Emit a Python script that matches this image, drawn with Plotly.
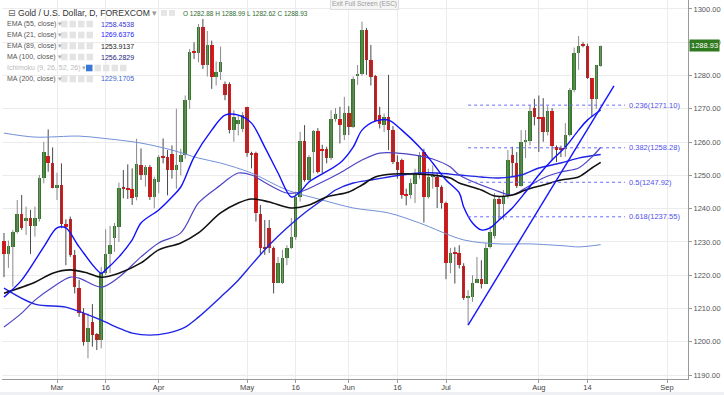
import plotly.graph_objects as go

# ---------------- data ----------------
open_ = [1230.4,1226.3,1228.6,1233.1,1238.4,1236.4,1237.2,1234.8,1236.9,1249.3,
         1255.8,1253.6,1246.1,1247.2,1235.4,1236.9,1226.1,1216.2,1208.5,1199.8,
         1206.0,1202.2,1200.5,1220.6,1226.4,1231.1,1234.6,1246.4,1246.1,1245.8,
         1243.5,1253.1,1250.1,1252.6,1243.6,1248.1,1255.8,1255.4,1256.5,1251.6,
         1254.0,1256.1,1272.6,1287.2,1286.8,1294.7,1283.2,1289.2,1279.7,1281.2,
         1277.5,1277.5,1263.6,1265.5,1263.8,1270.5,1256.8,1256.6,1238.3,1228.3,
         1234.3,1228.1,1217.7,1217.7,1225.1,1228.1,1231.4,1243.4,1260.4,1248.6,
         1257.1,1263.3,1257.8,1257.8,1255.1,1266.8,1266.8,1262.1,1268.6,1264.6,
         1280.0,1280.5,1293.7,1284.7,1279.9,1268.1,1265.1,1267.4,1263.6,1254.1,
         1254.6,1244.3,1244.1,1247.5,1250.0,1257.0,1243.6,1249.6,1249.6,1246.6,
         1241.8,1223.6,1226.6,1226.6,1222.8,1213.3,1213.5,1217.8,1219.0,1217.5,
         1228.5,1231.7,1242.8,1241.4,1243.8,1256.1,1253.8,1246.8,1260.1,1260.3,
         1270.2,1267.6,1267.6,1263.1,1269.4,1258.6,1257.8,1257.8,1262.1,1275.6,
         1286.7,1289.5,1288.9,1279.2,1272.9,1282.88]
high  = [1232.7,1230.4,1233.6,1242.6,1244.1,1240.6,1239.6,1240.6,1250.1,1260.1,
         1263.8,1258.4,1250.8,1253.6,1236.8,1237.6,1227.6,1218.6,1210.1,1208.5,
         1211.3,1202.6,1222.5,1233.8,1234.8,1235.7,1247.8,1251.6,1253.3,1252.1,
         1261.0,1258.1,1253.1,1253.1,1249.6,1256.1,1261.1,1257.6,1259.0,1270.0,
         1258.0,1274.0,1288.0,1290.0,1295.5,1297.0,1293.4,1290.5,1284.2,1288.7,
         1278.2,1278.0,1269.6,1268.0,1269.0,1270.6,1257.1,1257.1,1241.1,1236.6,
         1236.6,1228.6,1225.5,1227.6,1229.0,1237.2,1245.1,1263.1,1265.1,1256.1,
         1263.6,1264.2,1259.2,1258.6,1269.6,1270.2,1270.6,1273.6,1270.8,1279.7,
         1283.2,1296.2,1294.3,1289.2,1280.2,1270.6,1268.6,1280.2,1264.8,1256.0,
         1255.0,1246.0,1249.0,1252.0,1257.0,1258.0,1252.0,1253.0,1250.7,1247.0,
         1242.1,1228.2,1228.4,1229.0,1223.6,1215.5,1220.0,1225.5,1224.5,1229.6,
         1234.8,1244.7,1243.8,1245.6,1257.6,1258.6,1257.0,1263.6,1263.6,1271.1,
         1273.0,1274.0,1273.2,1270.8,1270.2,1259.0,1258.9,1265.7,1276.2,1288.4,
         1291.9,1290.0,1289.6,1279.2,1283.2,1288.99]
low   = [1219.4,1222.2,1216.5,1232.5,1233.6,1232.1,1226.4,1231.6,1236.1,1247.6,
         1251.1,1246.1,1242.6,1234.1,1223.0,1225.5,1214.5,1207.5,1198.8,1195.0,
         1198.5,1197.5,1198.0,1220.0,1220.6,1227.0,1230.0,1243.1,1242.9,1241.1,
         1242.5,1248.6,1246.6,1242.6,1240.1,1244.6,1253.6,1244.0,1249.0,1246.0,
         1250.0,1255.0,1270.0,1285.0,1284.0,1282.0,1279.7,1276.0,1277.0,1278.7,
         1272.6,1262.6,1260.1,1262.0,1263.0,1255.6,1252.1,1236.1,1226.1,1226.1,
         1226.7,1214.5,1217.6,1217.3,1223.0,1227.9,1230.6,1242.1,1248.1,1248.1,
         1250.6,1250.6,1250.7,1253.6,1254.6,1266.1,1259.6,1260.6,1262.1,1264.2,
         1277.2,1279.9,1280.2,1277.0,1266.3,1264.1,1263.0,1257.6,1253.4,1249.0,
         1243.0,1241.0,1243.0,1241.7,1249.0,1235.8,1243.0,1246.0,1240.2,1240.0,
         1218.8,1220.6,1217.5,1222.0,1212.6,1205.0,1212.0,1217.6,1216.0,1217.5,
         1228.0,1231.0,1236.6,1236.6,1243.0,1249.6,1246.2,1246.6,1255.2,1259.0,
         1265.0,1257.0,1260.1,1262.0,1254.6,1254.0,1255.5,1255.6,1261.7,1275.0,
         1281.7,1288.5,1279.0,1267.6,1270.0,1282.62]
close = [1226.3,1228.8,1233.1,1238.4,1234.3,1237.2,1234.8,1237.1,1249.3,1256.9,
         1253.6,1246.1,1247.2,1235.3,1234.6,1226.1,1216.5,1208.5,1199.8,1204.2,
         1202.0,1200.5,1220.6,1226.4,1229.1,1234.9,1246.3,1246.0,1245.6,1243.3,
         1253.3,1250.1,1252.6,1243.6,1248.9,1255.6,1255.4,1251.5,1251.6,1253.0,
         1256.0,1272.6,1287.0,1286.8,1294.5,1283.2,1289.2,1279.7,1281.2,1284.2,
         1274.2,1263.6,1267.6,1266.5,1268.1,1256.6,1256.4,1238.6,1228.1,1228.0,
         1228.1,1217.7,1223.6,1225.1,1228.1,1231.6,1243.6,1260.4,1248.6,1255.6,
         1263.3,1251.1,1257.4,1255.1,1266.9,1268.4,1265.1,1268.6,1264.6,1279.0,
         1280.5,1293.7,1284.7,1279.7,1266.4,1265.4,1267.4,1263.6,1254.1,1251.5,
         1244.1,1244.0,1247.6,1250.6,1256.0,1243.6,1249.6,1249.8,1246.6,1241.6,
         1223.6,1226.6,1226.4,1223.1,1213.0,1213.5,1217.8,1219.0,1217.5,1228.3,
         1233.1,1242.8,1241.4,1243.8,1254.6,1253.8,1246.8,1260.1,1260.3,1269.3,
         1267.6,1267.0,1263.1,1269.4,1258.8,1257.6,1257.7,1262.1,1275.6,1286.7,
         1288.9,1288.9,1279.2,1272.9,1283.2,1288.93]

# moving averages, sampled along the curves (bar index, value)
ema21_idx = [0,4,9,12,14,17,22,23,26,29,31,35,38,40,43,47,50,53,56,59,62,65,67,69,76,79,81,84,87,90,94,97,100,103,104,106,108,110,112,115,118,121,124,127,130,132,135]
ema21_val = [1213.4,1218.5,1228.5,1234.2,1234.2,1228.5,1220.6,1221.6,1225.5,1230.6,1235.7,1239.6,1243.5,1246.5,1255.5,1263.6,1268.1,1268.1,1265.7,1258.5,1250.7,1243.5,1245.0,1248.0,1253.7,1258.5,1263.6,1266.3,1266.6,1263.6,1258.5,1253.7,1248.6,1244.7,1240.5,1235.7,1233.6,1234.2,1236.6,1240.2,1245.0,1250.1,1254.6,1258.5,1263.6,1266.6,1269.64]
ema55_idx = [0,4,7,11,15,17,22,26,31,35,40,44,49,51,53,56,60,64,67,72,76,81,85,89,93,97,101,103,111,115,118,122,126,130,133,135]
ema55_val = [1204.4,1208.6,1212.5,1216.4,1219.4,1219.1,1216.4,1219.4,1225.5,1229.7,1232.7,1241.7,1247.1,1249.2,1250.7,1250.1,1247.1,1244.7,1245.0,1248.0,1250.7,1254.6,1256.7,1256.7,1256.1,1254.9,1252.5,1250.1,1245.6,1244.1,1246.2,1249.2,1251.0,1252.2,1255.5,1258.45]
ema89_idx = [0,7,11,15,19,22,26,31,35,40,44,49,53,56,60,65,69,73,78,81,84,88,93,97,101,103,108,111,115,118,122,126,130,133,135]
ema89_val = [1214.6,1217.9,1220.6,1221.6,1220.6,1219.4,1220.6,1223.7,1227.6,1229.7,1232.7,1238.7,1241.7,1242.9,1242.0,1240.2,1241.1,1243.5,1245.0,1247.1,1249.5,1250.4,1250.4,1250.1,1249.2,1247.7,1245.6,1243.8,1244.1,1245.6,1247.1,1248.6,1249.5,1252.2,1253.91]
ma100_idx = [0,7,14,18,22,26,29,33,37,41,44,49,53,56,60,64,68,72,75,79,83,87,90,94,98,103,108,112,117,121,126,130,135]
ma100_val = [1216.1,1211.3,1210.4,1208.6,1206.5,1204.1,1202.6,1202.0,1202.6,1204.4,1207.4,1213.4,1218.5,1223.1,1229.1,1234.2,1238.7,1242.6,1245.6,1247.7,1248.6,1249.5,1250.1,1250.7,1250.7,1250.1,1249.5,1249.2,1250.1,1252.2,1253.7,1255.2,1256.28]
ma200_idx = [0,7,17,22,31,38,44,49,56,64,72,79,87,94,104,112,119,127,130,135]
ma200_val = [1262.7,1261.5,1261.8,1261.2,1259.7,1257.6,1255.2,1253.7,1250.7,1245.6,1242.6,1240.2,1238.7,1235.7,1230.6,1229.4,1229.4,1228.8,1228.5,1229.17]

legend_rows = ["EMA (55, close)", "EMA (21, close)", "EMA (89, close)", "MA (100, close)",
               "Ichimoku (9, 26, 52, 26)", "MA (200, close)"]
legend_vals = ["1258.4538", "1269.6376", "1253.9137", "1256.2829", "", "1229.1705"]

fib_ratios = [0.236, 0.382, 0.5, 0.618]
fib_levels = [1271.10, 1258.28, 1247.92, 1237.55]
fib_from_bar = 105
fib_to_bar = 140.5

trend_bars = [105, 138]
trend_vals = [1205.0, 1276.9]

tick_bars = [12, 23, 35, 55, 66, 78, 89, 100, 121, 132, 150]
tick_text = ["Mar", "16", "Apr", "May", "16", "Jun", "16", "Jul", "Aug", "14", "Sep"]

last_price = close[-1]

# ---------------- figure ----------------
W, H = 724, 395
ML, MR, MT, MB = 2, 36, 0, 16
PW, PH = W - ML - MR, H - MT - MB


def px(x):
    return (x - ML) / PW


def py(y):
    return 1 - (y - MT) / PH


GREEN = "#2e7a21"
RED = "#f41010"
FONT = "Liberation Sans, Arial, sans-serif"

N = len(close)
bars = list(range(N))

fig = go.Figure()

# wicks (lighter for up candles, darker for down candles, as in the picture)
for up, col in ((True, "#8a8a8a"), (False, "#4a4a4a")):
    wx, wy = [], []
    for i in bars:
        if (close[i] >= open_[i]) == up:
            wx += [i, i, None]
            wy += [low[i], high[i], None]
    fig.add_trace(go.Scatter(x=wx, y=wy, mode="lines", line=dict(color=col, width=1),
                             hoverinfo="skip", showlegend=False))

# bodies
base = [min(o, c) for o, c in zip(open_, close)]
height = [max(abs(c - o), 0.35) for o, c in zip(open_, close)]
colors = [GREEN if c >= o else RED for o, c in zip(open_, close)]
fig.add_trace(go.Bar(x=bars, y=height, base=base, marker=dict(color=colors, line=dict(width=0)),
                     width=0.8, hoverinfo="skip", showlegend=False))

line_style = dict(shape="spline", smoothing=0.9)
fig.add_trace(go.Scatter(x=ma200_idx, y=ma200_val, mode="lines",
                         line=dict(color="#7290d6", width=1, **line_style), showlegend=False, hoverinfo="skip"))
fig.add_trace(go.Scatter(x=ma100_idx, y=ma100_val, mode="lines",
                         line=dict(color="#1f24e6", width=1.4, **line_style), showlegend=False, hoverinfo="skip"))
fig.add_trace(go.Scatter(x=ema55_idx, y=ema55_val, mode="lines",
                         line=dict(color="#4d44c4", width=1.2, **line_style), showlegend=False, hoverinfo="skip"))
fig.add_trace(go.Scatter(x=ema89_idx, y=ema89_val, mode="lines",
                         line=dict(color="#111111", width=1.6, **line_style), showlegend=False, hoverinfo="skip"))
fig.add_trace(go.Scatter(x=ema21_idx, y=ema21_val, mode="lines",
                         line=dict(color="#1010ff", width=1.4, **line_style), showlegend=False, hoverinfo="skip"))

# fib levels
for r, v in zip(fib_ratios, fib_levels):
    fig.add_trace(go.Scatter(x=[fib_from_bar, fib_to_bar], y=[v, v], mode="lines",
                             line=dict(color="#6a6aff", width=1, dash="dot"),
                             showlegend=False, hoverinfo="skip"))
    fig.add_annotation(x=fib_to_bar, y=v, text=f"{r}({v:.2f})", showarrow=False,
                       xanchor="left", yanchor="middle", xshift=2,
                       font=dict(family=FONT, size=7.5, color="#5050ee"))

# trend line
fig.add_trace(go.Scatter(x=trend_bars, y=trend_vals, mode="lines",
                         line=dict(color="#1414ff", width=1.4), showlegend=False, hoverinfo="skip"))

fig.update_layout(
    width=W, height=H, margin=dict(l=ML, r=MR, t=MT, b=MB),
    paper_bgcolor="white", plot_bgcolor="white", barmode="overlay", bargap=0,
    showlegend=False,
    xaxis=dict(range=[-0.45, 154.75], tickmode="array", tickvals=tick_bars,
               ticktext=tick_text, showgrid=True, gridcolor="#ececec", gridwidth=1,
               zeroline=False, showline=True, linecolor="#9a9a9a", linewidth=1,
               ticks="outside", ticklen=3, tickcolor="#9a9a9a", ticklabelstandoff=-2,
               tickfont=dict(family=FONT, size=7.5, color="#444"), automargin=False,
               fixedrange=True),
    yaxis=dict(side="right", range=[1188.8, 1302.7], dtick=10, tick0=1190,
               tickformat=".2f", showgrid=True, gridcolor="#ececec", gridwidth=1,
               zeroline=False, showline=True, linecolor="#9a9a9a", linewidth=1,
               ticks="outside", ticklen=3, tickcolor="#9a9a9a",
               tickfont=dict(family=FONT, size=7.5, color="#555"), automargin=False,
               fixedrange=True),
)

# bottom strip
fig.add_shape(type="rect", xref="paper", yref="paper", x0=px(0), x1=px(W), y0=py(H), y1=py(392),
              fillcolor="#eef0f4", line=dict(width=0), layer="below")

# last price label
fig.add_annotation(xref="paper", yref="y", x=1, y=last_price, text=f"{last_price:.2f}",
                   showarrow=False, xanchor="left", yanchor="middle", xshift=1,
                   bgcolor="#2f7a1e", borderpad=1,
                   font=dict(family=FONT, size=7.5, color="white"))

# exit full screen
fig.add_annotation(xref="paper", yref="paper", x=px(364), y=py(4), text="Exit Full Screen (ESC)",
                   showarrow=False, xanchor="center", yanchor="middle",
                   bgcolor="#f5f5f5", bordercolor="#dddddd", borderwidth=1, borderpad=1,
                   font=dict(family=FONT, size=6.5, color="#9a9a9a"))

# title line
fig.add_annotation(xref="paper", yref="paper", x=px(6), y=py(13), text="⊟",
                   showarrow=False, xanchor="left", yanchor="middle",
                   font=dict(family="DejaVu Sans", size=9, color="#666"))
fig.add_annotation(xref="paper", yref="paper", x=px(16), y=py(13),
                   text="Gold / U.S. Dollar, D, FOREXCOM <span style='color:#999'>▾</span>",
                   showarrow=False, xanchor="left", yanchor="middle",
                   font=dict(family=FONT, size=8.6, color="#333"))
fig.add_annotation(xref="paper", yref="paper", x=px(181), y=py(13),
                   text=f"O {open_[-1]:.2f} H {high[-1]:.2f} L {low[-1]:.2f} C {close[-1]:.2f}",
                   showarrow=False, xanchor="left", yanchor="middle",
                   font=dict(family=FONT, size=6.5, color="#2f6b2f"))
for k in range(2):
    fig.add_shape(type="rect", xref="paper", yref="paper", x0=px(161 + 8 * k), x1=px(167 + 8 * k),
                  y0=py(16), y1=py(10), fillcolor="#e6e6e6", line=dict(width=0))

val_colors = ["#3636d8", "#1a1aff", "#222222", "#23237e", "#999", "#3b5fd0"]
row_y = [24, 35, 46, 57, 68, 79]
for name, val, col, yy in zip(legend_rows, legend_vals, val_colors, row_y):
    faded = val == ""
    fig.add_annotation(xref="paper", yref="paper", x=px(5), y=py(yy),
                       text=f"{name} <span style='color:#aaa'>▾</span>", showarrow=False,
                       xanchor="left", yanchor="middle",
                       font=dict(family=FONT, size=7, color="#bbbbbb" if faded else "#555"))
    x0 = 86 if faded else 61
    for k in range(4 if not faded else 5):
        fc = "#3a78d8" if (faded and k == 0) else "#e4e4e4"
        fig.add_shape(type="rect", xref="paper", yref="paper", x0=px(x0 + 8.5 * k), x1=px(x0 + 6.5 + 8.5 * k),
                      y0=py(yy + 3.3), y1=py(yy - 3.3), fillcolor=fc, line=dict(width=0))
    if val:
        fig.add_annotation(xref="paper", yref="paper", x=px(99), y=py(yy), text=val,
                           showarrow=False, xanchor="left", yanchor="middle",
                           font=dict(family=FONT, size=7, color=col))

fig.write_html("out.html", config={"displayModeBar": False, "staticPlot": False},
               post_script="document.body.style.margin='0';document.body.style.padding='0';")
